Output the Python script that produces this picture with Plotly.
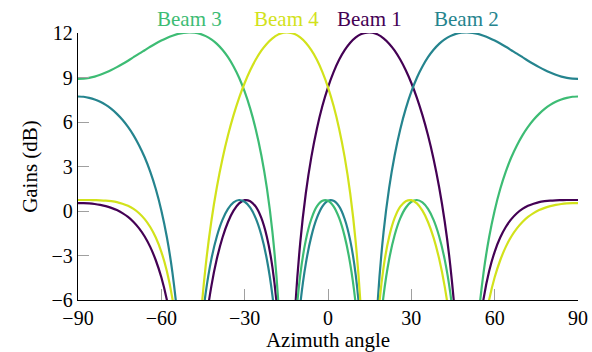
import plotly.graph_objects as go

# Azimuth angles (degrees), one reading every 2 degrees
azimuth = list(range(-90, 91, 2))

# Gains (dB); values far below the axis floor kept as -25
beam1 = [0.53,0.53,0.51,0.47,0.41,0.33,0.21,0.06,-0.14,-0.40,
         -0.74,-1.17,-1.72,-2.42,-3.32,-4.47,-6.00,-8.09,-11.17,-16.52,
         -25.00,-17.93,-11.33,-7.62,-5.08,-3.21,-1.80,-0.74,0.02,0.51,
         0.73,0.66,0.29,-0.47,-1.75,-3.80,-7.30,-15.01,-18.97,-7.25,
         -2.15,1.18,3.63,5.55,7.09,8.34,9.36,10.19,10.84,11.34,
         11.70,11.93,12.03,12.02,11.89,11.64,11.28,10.81,10.21,9.49,
         8.63,7.63,6.46,5.10,3.51,1.62,-0.69,-3.63,-7.71,-14.64,
         -25.00,-13.83,-8.75,-5.92,-4.06,-2.75,-1.79,-1.08,-0.55,-0.15,
         0.14,0.35,0.49,0.60,0.66,0.70,0.72,0.73,0.74,0.74,
         0.74]
beam2 = [7.72,7.70,7.63,7.52,7.36,7.15,6.88,6.55,6.15,5.67,
         5.10,4.42,3.62,2.65,1.48,0.04,-1.77,-4.15,-7.53,-13.18,
         -25.00,-15.20,-8.90,-5.49,-3.26,-1.70,-0.60,0.14,0.58,0.74,
         0.62,0.22,-0.50,-1.62,-3.27,-5.71,-9.61,-17.75,-22.15,-10.91,
         -6.33,-3.56,-1.71,-0.47,0.31,0.69,0.69,0.31,-0.54,-1.98,
         -4.34,-8.51,-19.31,-14.45,-5.84,-1.43,1.54,3.76,5.50,6.90,
         8.04,8.98,9.74,10.37,10.87,11.27,11.57,11.79,11.94,12.02,
         12.04,12.01,11.94,11.82,11.67,11.49,11.29,11.07,10.84,10.61,
         10.37,10.13,9.91,9.70,9.50,9.33,9.18,9.06,8.98,8.92,
         8.91]
beam3 = [8.91,8.92,8.98,9.06,9.18,9.33,9.50,9.70,9.91,10.13,
         10.37,10.61,10.84,11.07,11.29,11.49,11.67,11.82,11.94,12.01,
         12.04,12.02,11.94,11.79,11.57,11.27,10.87,10.37,9.74,8.98,
         8.04,6.90,5.50,3.76,1.54,-1.43,-5.84,-14.45,-19.31,-8.51,
         -4.34,-1.98,-0.54,0.31,0.69,0.69,0.31,-0.47,-1.71,-3.56,
         -6.33,-10.91,-22.15,-17.75,-9.61,-5.71,-3.27,-1.62,-0.50,0.22,
         0.62,0.74,0.58,0.14,-0.60,-1.70,-3.26,-5.49,-8.90,-15.20,
         -25.00,-13.18,-7.53,-4.15,-1.77,0.04,1.48,2.65,3.62,4.42,
         5.10,5.67,6.15,6.55,6.88,7.15,7.36,7.52,7.63,7.70,
         7.72]
beam4 = [0.74,0.74,0.74,0.73,0.72,0.70,0.66,0.60,0.49,0.35,
         0.14,-0.15,-0.55,-1.08,-1.79,-2.75,-4.06,-5.92,-8.75,-13.83,
         -25.00,-14.64,-7.71,-3.63,-0.69,1.62,3.51,5.10,6.46,7.63,
         8.63,9.49,10.21,10.81,11.28,11.64,11.89,12.02,12.03,11.93,
         11.70,11.34,10.84,10.19,9.36,8.34,7.09,5.55,3.63,1.18,
         -2.15,-7.25,-18.97,-15.01,-7.30,-3.80,-1.75,-0.47,0.29,0.66,
         0.73,0.51,0.02,-0.74,-1.80,-3.21,-5.08,-7.62,-11.33,-17.93,
         -25.00,-16.52,-11.17,-8.09,-6.00,-4.47,-3.32,-2.42,-1.72,-1.17,
         -0.74,-0.40,-0.14,0.06,0.21,0.33,0.41,0.47,0.51,0.53,
         0.53]

names = ["Beam 1", "Beam 2", "Beam 3", "Beam 4"]
colors = ["#440154", "#25848e", "#3dbc74", "#d2e21b"]
series = [beam1, beam2, beam3, beam4]

x_ticks = [-90, -60, -30, 0, 30, 60, 90]
y_ticks = [-6, -3, 0, 3, 6, 9, 12]

FONT = "Liberation Serif"

fig = go.Figure()
for name, col, ys in zip(names, colors, series):
    fig.add_trace(go.Scatter(x=azimuth, y=ys, mode="lines", name=name,
                             line=dict(color=col, width=2.2, shape="spline", smoothing=0.8),
                             showlegend=False))
    top = max(ys)
    peak_angles = [a for a, v in zip(azimuth, ys) if v >= top - 0.05]
    xc = sum(peak_angles) / len(peak_angles)
    fig.add_annotation(x=xc, y=1.0, xref="x", yref="paper", text=name,
                       showarrow=False, yanchor="bottom", xanchor="center",
                       font=dict(family=FONT, size=21, color=col))

axis_common = dict(ticks="inside", ticklen=11, tickcolor="#a0a0a0", tickwidth=1,
                   showline=True, linecolor="black", linewidth=1.3,
                   showgrid=False, zeroline=False, automargin=False,
                   tickfont=dict(family=FONT, size=20, color="black"))
fig.update_xaxes(range=[-90, 90], tickvals=x_ticks, **axis_common,
                 title=dict(text="Azimuth angle", standoff=6,
                            font=dict(family=FONT, size=21, color="black")))
fig.update_yaxes(range=[-6, 12], tickvals=y_ticks, **axis_common,
                 title=dict(text="Gains (dB)", standoff=8,
                            font=dict(family=FONT, size=21, color="black")))
fig.update_layout(template="none", width=592, height=352,
                  margin=dict(l=78, r=14, t=33, b=52),
                  plot_bgcolor="white", paper_bgcolor="white", showlegend=False)
fig.write_html("out.html")
